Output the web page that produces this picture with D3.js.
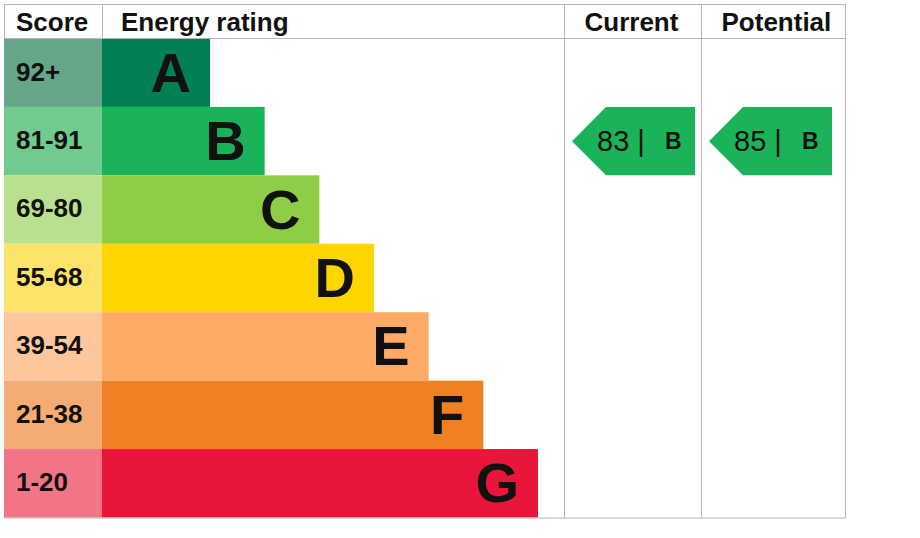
<!DOCTYPE html>
<html><head><meta charset="utf-8">
<script src="https://cdn.jsdelivr.net/npm/d3@7"></script>
<style>html,body{margin:0;padding:0;background:#fff}svg{display:block}text{font-family:"Liberation Sans",Arial,sans-serif}</style>
</head><body>
<script>
const bands = ["A","B","C","D","E","F","G"];
const scoreRanges = ["92+","81-91","69-80","55-68","39-54","21-38","1-20"];
const bandMin = [92,81,69,55,39,21,1];
const bandColors = ["#008054","#1bb35a","#8dce46","#ffd500","#fcaa65","#ef8023","#e9153b"];
const scoreColors = ["#66a688","#72cb8e","#b8e08f","#ffe26a","#fec79b","#f4ac72","#f27487"];
const headers = ["Score","Energy rating","Current","Potential"];
const ratingColumns = ["Current","Potential"];
const ratingValues = [83, 85];

(function () {
const W = 920, H = 538;
const svg = d3.select("body").append("svg").attr("width", W).attr("height", H);

const gLeft = 4.5, gRight = 845.5, gTop = 4.5, gBottom = 518, headerB = 38.5;
const scoreRight = 102, barsMaxRight = 538, col1 = 564.5, col2 = 701.5;

const y = d3.scaleBand().domain(bands).range([headerB, 517.5]).padding(0);
const xEnd = d3.scaleLinear().domain([0, bands.length - 1]).range([210, barsMaxRight]);

const bandOf = v => bands[bandMin.findIndex(m => v >= m)];

// score column
svg.selectAll("rect.score").data(bands).join("rect")
  .attr("x", 4).attr("y", d => y(d)).attr("width", scoreRight - 4).attr("height", y.bandwidth())
  .attr("fill", (d, i) => scoreColors[i]);
svg.selectAll("text.score").data(bands).join("text")
  .attr("x", 16).attr("y", d => y(d) + y.bandwidth() / 2).attr("dy", "0.3em")
  .attr("font-size", 26).attr("font-weight", "bold").attr("fill", "#111")
  .text((d, i) => scoreRanges[i]);

// bars
svg.selectAll("rect.bar").data(bands).join("rect")
  .attr("x", scoreRight).attr("y", d => y(d)).attr("width", (d, i) => xEnd(i) - scoreRight).attr("height", y.bandwidth())
  .attr("fill", (d, i) => bandColors[i]);
svg.selectAll("text.bar").data(bands).join("text")
  .attr("x", (d, i) => xEnd(i) - 19).attr("y", d => y(d) + y.bandwidth() / 2).attr("dy", "0.34em")
  .attr("text-anchor", "end").attr("font-size", 56).attr("font-weight", "bold").attr("fill", "#111")
  .text(d => d);

// grid lines
const g = svg.append("g").attr("stroke", "#b5b5b5").attr("stroke-width", 1).attr("fill", "none");
g.append("line").attr("x1", gLeft).attr("x2", gRight).attr("y1", gTop).attr("y2", gTop);
g.append("line").attr("x1", gLeft).attr("x2", gRight).attr("y1", headerB).attr("y2", headerB);
g.append("line").attr("x1", gLeft).attr("x2", gRight).attr("y1", gBottom).attr("y2", gBottom);
g.append("line").attr("x1", gLeft).attr("x2", gLeft).attr("y1", gTop).attr("y2", headerB);
g.append("line").attr("x1", scoreRight + 0.5).attr("x2", scoreRight + 0.5).attr("y1", gTop).attr("y2", headerB);
[col1, col2, gRight].forEach(x => g.append("line").attr("x1", x).attr("x2", x).attr("y1", gTop).attr("y2", gBottom));

// headers
const hx = [16, 121, col1 + 20, col2 + 20];
svg.selectAll("text.hdr").data(headers).join("text")
  .attr("x", (d, i) => hx[i]).attr("y", 31)
  .attr("font-size", 26).attr("font-weight", "bold").attr("fill", "#111")
  .text(d => d);

// rating arrows
const colLefts = [col1, col2];
ratingValues.forEach((v, i) => {
  const b = bandOf(v), bi = bands.indexOf(b);
  const y0 = y(b), y1 = y0 + y.bandwidth(), ym = (y0 + y1) / 2;
  const tip = colLefts[i] + 7.5, bodyL = tip + 34, bodyR = tip + 123;
  svg.append("path")
    .attr("d", d3.line()([[tip, ym], [bodyL, y0], [bodyR, y0], [bodyR, y1], [bodyL, y1]]) + "Z")
    .attr("fill", bandColors[bi]);
  svg.append("text").attr("x", tip + 25).attr("y", ym).attr("dy", "0.33em")
    .attr("font-size", 29).attr("fill", "#111").text(v + " |");
  svg.append("text").attr("x", bodyR - 30).attr("y", ym).attr("dy", "0.36em")
    .attr("font-size", 23).attr("font-weight", "bold").attr("fill", "#111").text(b);
});
})();
</script>
</body></html>
